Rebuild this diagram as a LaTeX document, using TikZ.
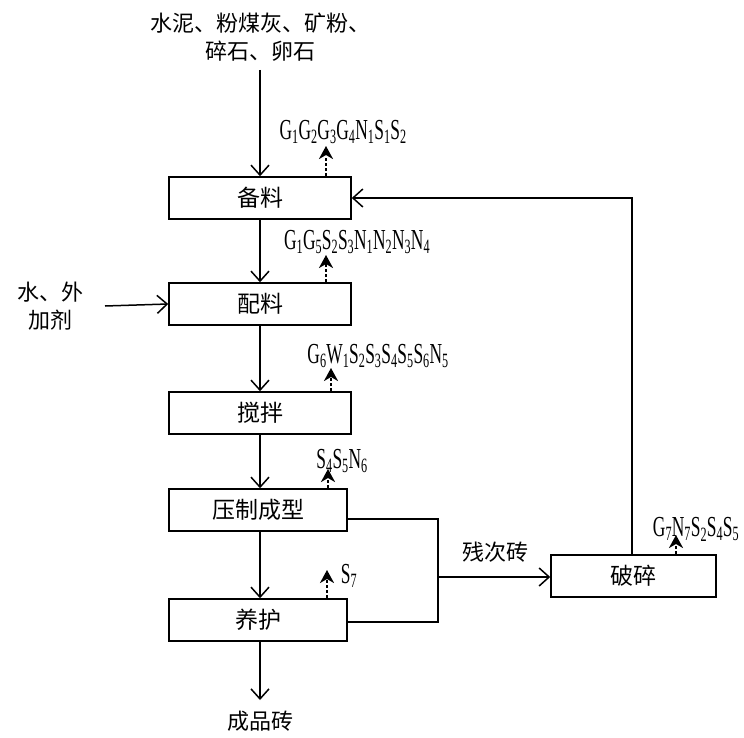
\documentclass[tikz,border=0pt]{standalone}
\usepackage{fontspec}
\usepackage{graphicx}
\setmainfont{Liberation Serif}
\newfontfamily\cjk{Noto Sans CJK SC}
\usetikzlibrary{arrows.meta}
\newcommand\emis[1]{\scalebox{0.6}[1]{\fontsize{29}{29}\selectfont #1}}
\tikzset{
  box/.style={draw, line width=1.5pt, minimum height=42pt, inner sep=0pt, font=\cjk\fontsize{23}{23}\selectfont},
  arr/.style={line width=1.5pt, -{Straight Barb[length=10pt,width=18pt,line width=1.5pt]}},
  ln/.style={line width=1.5pt},
  emi/.style={line width=2.8pt, dash pattern=on 2.8pt off 2.4pt, -{Stealth[length=13pt,width=14pt,inset=4pt]}},
  lbl/.style={inner sep=0pt, font=\cjk\fontsize{22}{28}\selectfont, align=center},
  elbl/.style={inner sep=0pt}
}
\begin{document}
\begin{tikzpicture}[x=1pt,y=-1pt]
\useasboundingbox (0,0) rectangle (744,738);
% boxes
\node[box, minimum width=182pt] (bl) at (260,198) {备料};
\node[box, minimum width=182pt] (pl) at (260,304) {配料};
\node[box, minimum width=182pt] (jb) at (260,413) {搅拌};
\node[box, minimum width=178pt] (yz) at (258,510) {压制成型};
\node[box, minimum width=178pt] (yh) at (258,620) {养护};
\node[box, minimum width=165pt] (ps) at (633.5,576) {破碎};
% texts
\node[lbl] (top) at (260,37) {水泥、粉煤灰、矿粉、\\碎石、卵石};
\node[lbl] (wat) at (50,306) {水、外\\加剂};
\node[lbl] (cp) at (260,721) {成品砖};
\node[lbl] (ccz) at (495,552) {残次砖};
% main flow
\coordinate (t1) at (260,70);
\draw[arr] (t1) -- (bl.north);
\draw[arr] (bl.south) -- (pl.north);
\draw[arr] (pl.south) -- (jb.north);
\draw[arr] (jb.south) -- (jb.south |- yz.north);
\draw[arr] (jb.south |- yz.south) -- (jb.south |- yh.north);
\coordinate (cpt) at (260,700);
\draw[arr] (jb.south |- yh.south) -- (cpt);
\coordinate (w1) at (105,306);
\draw[arr] (w1) -- (pl.west);
% rejects
\coordinate (j1) at (438,519);
\coordinate (j2) at (438,622);
\coordinate (jm) at (438,577);
\draw[ln] (yz.east |- j1) -- (j1) -- (j2) -- (yh.east |- j2);
\draw[arr] (jm) -- (ps.west |- jm);
\draw[arr] (ps.north -| 632,0) |- (bl.east);
% emissions
\coordinate (e1) at (326,146);
\draw[emi] (bl.north -| e1) -- (e1);
\node[elbl] (l1) at (343,132) {\emis{G\textsubscript{1}G\textsubscript{2}G\textsubscript{3}G\textsubscript{4}N\textsubscript{1}S\textsubscript{1}S\textsubscript{2}}};
\coordinate (e2) at (326,255);
\draw[emi] (pl.north -| e2) -- (e2);
\node[elbl] (l2) at (357,242) {\emis{G\textsubscript{1}G\textsubscript{5}S\textsubscript{2}S\textsubscript{3}N\textsubscript{1}N\textsubscript{2}N\textsubscript{3}N\textsubscript{4}}};
\coordinate (e3) at (331,368);
\draw[emi] (jb.north -| e3) -- (e3);
\node[elbl] (l3) at (378,356) {\emis{G\textsubscript{6}W\textsubscript{1}S\textsubscript{2}S\textsubscript{3}S\textsubscript{4}S\textsubscript{5}S\textsubscript{6}N\textsubscript{5}}};
\coordinate (e4) at (328,469);
\draw[emi] (yz.north -| e4) -- (e4);
\node[elbl] (l4) at (342,461) {\emis{S\textsubscript{4}S\textsubscript{5}N\textsubscript{6}}};
\coordinate (e5) at (327,570);
\draw[emi] (yh.north -| e5) -- (e5);
\node[elbl] (l5) at (349,576) {\emis{S\textsubscript{7}}};
\coordinate (e6) at (676,535);
\draw[emi] (ps.north -| e6) -- (e6);
\node[elbl] (l6) at (696,529) {\emis{G\textsubscript{7}N\textsubscript{7}S\textsubscript{2}S\textsubscript{4}S\textsubscript{5}}};
\end{tikzpicture}
\end{document}
